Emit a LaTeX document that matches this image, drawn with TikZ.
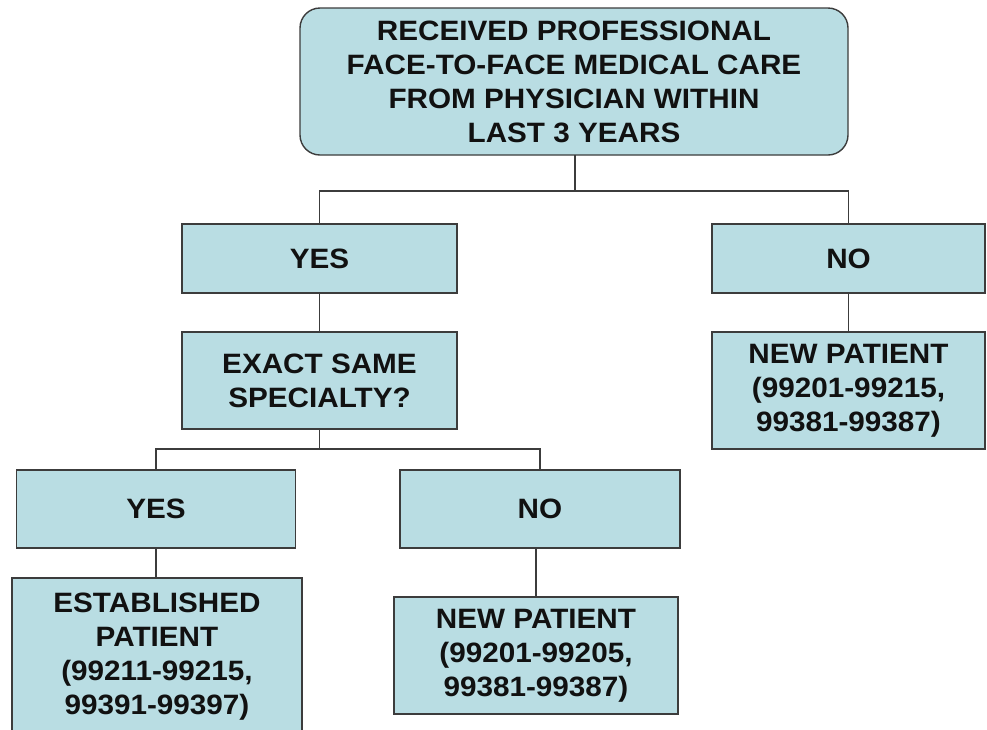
\documentclass[tikz,border=0pt]{standalone}
\usepackage{fontspec}
\newfontfamily\boxfont[FakeStretch=1.06]{Liberation Sans}
\definecolor{boxfill}{RGB}{185,221,227}
\definecolor{boxline}{RGB}{60,60,60}
\definecolor{txt}{RGB}{17,17,17}
\tikzset{
  box/.style={draw=boxline, fill=boxfill, line width=1.4pt, inner sep=0pt, outer sep=0pt,
    align=center, text=txt, font=\boxfont\bfseries\fontsize{28}{34}\selectfont},
  conn/.style={draw=boxline, line width=1.4pt}
}
\begin{document}
\begin{tikzpicture}[x=1pt,y=-1pt]
\useasboundingbox (0,0) rectangle (987,729);
\fill[white] (0,0) rectangle (987,729);
% nodes
\node[box, rounded corners=20pt, minimum width=548pt, minimum height=147pt] (top) at (574,81.5)
  {RECEIVED PROFESSIONAL\\FACE-TO-FACE MEDICAL CARE\\FROM PHYSICIAN WITHIN\\LAST 3 YEARS};
\node[box, minimum width=275pt, minimum height=69pt] (yesA) at (319.5,258.5) {YES};
\node[box, minimum width=273pt, minimum height=69pt] (noA) at (848.5,258.5) {NO};
\node[box, minimum width=275pt, minimum height=97pt] (exact) at (319.5,380.5) {EXACT SAME\\SPECIALTY?};
\node[box, minimum width=273pt, minimum height=117pt] (newR) at (848.5,390.5)
  {NEW PATIENT\\(99201-99215,\\99381-99387)};
\node[box, minimum width=279pt, minimum height=78pt] (yesB) at (156,509) {YES};
\node[box, minimum width=280pt, minimum height=78pt] (noB) at (540,509) {NO};
\node[box, minimum width=290pt, minimum height=158pt] (est) at (157,657)
  {ESTABLISHED\\PATIENT\\(99211-99215,\\99391-99397)};
\node[box, minimum width=284pt, minimum height=117pt] (newM) at (536,655.5)
  {NEW PATIENT\\(99201-99205,\\99381-99387)};
% connectors
\coordinate (j1) at (575,191);
\coordinate (j2) at (319.5,449);
\draw[conn] (top.south -| j1) -- (j1);
\draw[conn] (yesA.north) |- (j1) -| (noA.north);
\draw[conn] (yesA.south) -- (exact.north);
\draw[conn] (noA.south) -- (newR.north);
\draw[conn] (exact.south) -- (j2);
\draw[conn] (yesB.north) |- (j2) -| (noB.north);
\draw[conn] (yesB.south) -- (est.north -| yesB.south);
\draw[conn] (noB.south -| newM.north) -- (newM.north);
\end{tikzpicture}
\end{document}
